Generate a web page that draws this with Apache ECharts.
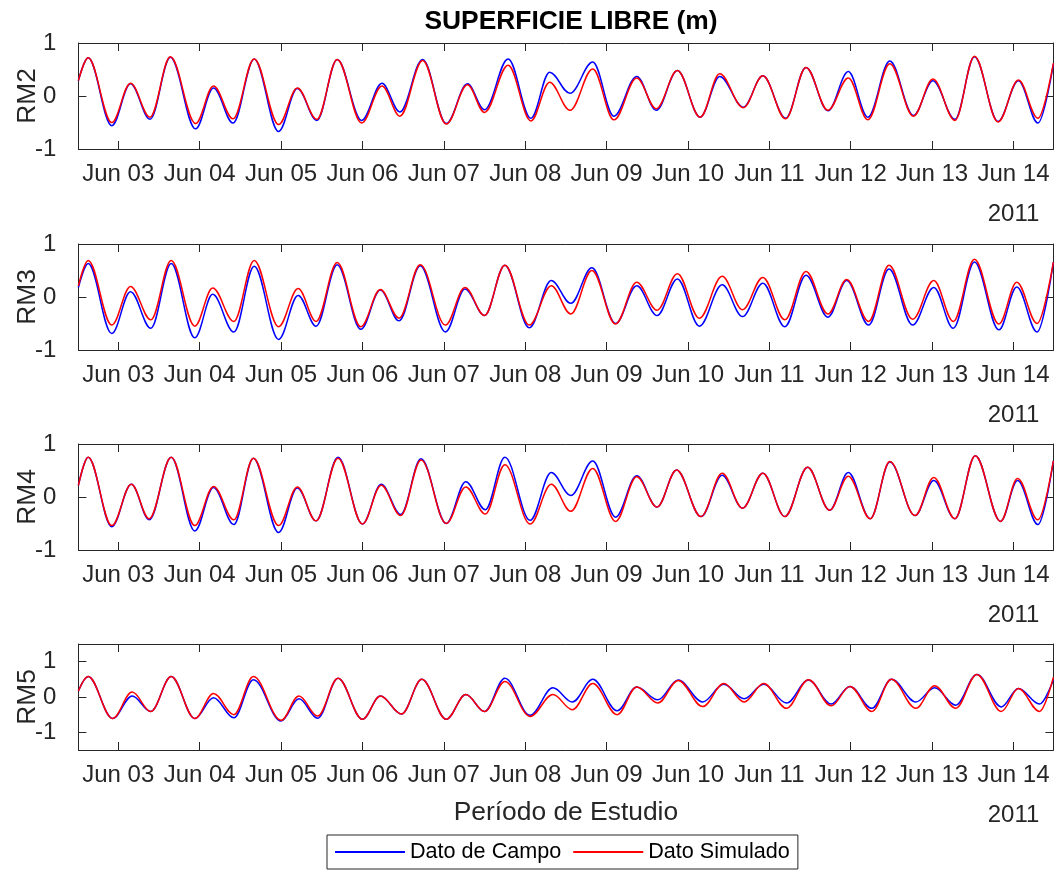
<!DOCTYPE html>
<html><head><meta charset="utf-8">
<script src="https://cdn.jsdelivr.net/npm/echarts@6/dist/echarts.min.js"></script>
<style>html,body{margin:0;padding:0;background:#fff}#c{width:1056px;height:871px}</style>
</head><body><div id="c"></div>
<script>
// ---- data (time in days since 2011-06-03 00:00; water level in m) ----
const stations = ['RM2', 'RM3', 'RM4', 'RM5'];
const dayTicks = [0, 1, 2, 3, 4, 5, 6, 7, 8, 9, 10, 11];
const dayLabels = ['Jun 03', 'Jun 04', 'Jun 05', 'Jun 06', 'Jun 07', 'Jun 08', 'Jun 09', 'Jun 10', 'Jun 11', 'Jun 12', 'Jun 13', 'Jun 14'];
const yearLabel = '2011';
const yTicksA = [-1, 0, 1];
const chartTitle = 'SUPERFICIE LIBRE (m)';
const xTitle = 'Período de Estudio';
const nameCampo = 'Dato de Campo';
const nameSim = 'Dato Simulado';

const tRM2 = [-0.49,-0.37,-0.08,0.15,0.39,0.64,0.95,1.17,1.41,1.67,1.97,2.20,2.44,2.69,2.99,3.24,3.46,3.74,4.03,4.29,4.50,4.79,5.07,5.30,5.55,5.83,6.09,6.37,6.61,6.87,7.15,7.39,7.68,7.92,8.20,8.45,8.72,8.97,9.21,9.48,9.77,10.01,10.28,10.52,10.81,11.06,11.30,11.49];
const simRM2 = [0.29,0.72,-0.50,0.24,-0.40,0.74,-0.52,0.19,-0.43,0.70,-0.54,0.15,-0.44,0.69,-0.51,0.19,-0.38,0.67,-0.53,0.21,-0.31,0.58,-0.47,0.26,-0.27,0.51,-0.45,0.34,-0.24,0.48,-0.40,0.42,-0.22,0.38,-0.43,0.54,-0.27,0.34,-0.45,0.61,-0.38,0.32,-0.46,0.75,-0.49,0.30,-0.42,0.62];
const campoRM2 = [0.29,0.72,-0.56,0.23,-0.44,0.73,-0.62,0.15,-0.51,0.70,-0.67,0.14,-0.46,0.69,-0.46,0.24,-0.30,0.69,-0.52,0.23,-0.26,0.70,-0.42,0.45,0.05,0.64,-0.38,0.37,-0.27,0.48,-0.40,0.37,-0.21,0.38,-0.42,0.54,-0.28,0.46,-0.40,0.66,-0.37,0.29,-0.44,0.74,-0.48,0.29,-0.51,0.60];

const tRM3 = [-0.49,-0.37,-0.08,0.15,0.40,0.65,0.94,1.16,1.42,1.67,1.97,2.21,2.43,2.69,2.98,3.22,3.45,3.71,4.02,4.26,4.50,4.75,5.05,5.32,5.56,5.82,6.11,6.37,6.62,6.87,7.14,7.42,7.67,7.92,8.19,8.45,8.72,8.95,9.22,9.47,9.76,10.02,10.26,10.52,10.82,11.04,11.29,11.49];
const simRM3 = [0.21,0.69,-0.53,0.20,-0.43,0.69,-0.55,0.17,-0.46,0.69,-0.56,0.16,-0.46,0.65,-0.56,0.14,-0.40,0.61,-0.53,0.18,-0.35,0.60,-0.53,0.21,-0.32,0.50,-0.51,0.28,-0.25,0.44,-0.40,0.39,-0.24,0.37,-0.43,0.48,-0.32,0.33,-0.46,0.60,-0.42,0.31,-0.46,0.71,-0.51,0.28,-0.50,0.66];
const campoRM3 = [0.18,0.63,-0.69,0.10,-0.59,0.63,-0.77,0.05,-0.66,0.58,-0.80,0.03,-0.55,0.61,-0.61,0.13,-0.45,0.59,-0.66,0.15,-0.35,0.60,-0.58,0.31,-0.12,0.55,-0.50,0.21,-0.35,0.34,-0.55,0.23,-0.37,0.26,-0.56,0.41,-0.38,0.31,-0.53,0.53,-0.53,0.18,-0.59,0.66,-0.62,0.19,-0.66,0.66];

const tRM4 = [-0.49,-0.37,-0.08,0.16,0.38,0.65,0.94,1.17,1.42,1.66,1.97,2.20,2.43,2.70,3.00,3.23,3.47,3.72,4.03,4.27,4.51,4.75,5.06,5.32,5.56,5.83,6.11,6.37,6.62,6.86,7.16,7.42,7.67,7.92,8.19,8.47,8.74,8.97,9.24,9.48,9.79,10.02,10.28,10.53,10.84,11.05,11.30,11.49];
const simRM4 = [0.22,0.75,-0.54,0.24,-0.41,0.75,-0.54,0.20,-0.43,0.73,-0.54,0.19,-0.45,0.73,-0.51,0.22,-0.35,0.70,-0.50,0.19,-0.32,0.61,-0.51,0.24,-0.27,0.54,-0.46,0.38,-0.19,0.51,-0.37,0.45,-0.21,0.45,-0.37,0.56,-0.25,0.39,-0.41,0.67,-0.35,0.37,-0.41,0.78,-0.46,0.35,-0.43,0.68];
const campoRM4 = [0.22,0.75,-0.56,0.24,-0.43,0.75,-0.64,0.18,-0.52,0.73,-0.67,0.17,-0.45,0.75,-0.51,0.24,-0.33,0.72,-0.50,0.29,-0.24,0.75,-0.44,0.46,0.03,0.68,-0.38,0.40,-0.19,0.51,-0.37,0.41,-0.21,0.45,-0.37,0.56,-0.25,0.46,-0.41,0.66,-0.35,0.31,-0.41,0.78,-0.46,0.31,-0.52,0.68];

const tRM5 = [-0.49,-0.37,-0.07,0.17,0.40,0.65,0.94,1.17,1.42,1.66,2.00,2.22,2.45,2.70,3.00,3.22,3.48,3.73,4.03,4.27,4.50,4.75,5.06,5.34,5.58,5.83,6.13,6.37,6.63,6.88,7.18,7.44,7.69,7.93,8.21,8.48,8.76,8.99,9.26,9.50,9.80,10.03,10.29,10.55,10.85,11.06,11.32,11.49];
const simRM5 = [0.17,0.58,-0.61,0.14,-0.41,0.58,-0.61,0.10,-0.50,0.58,-0.66,0.03,-0.54,0.53,-0.63,0.03,-0.48,0.50,-0.63,0.07,-0.41,0.44,-0.55,0.07,-0.36,0.38,-0.50,0.28,-0.17,0.47,-0.27,0.38,-0.14,0.38,-0.32,0.49,-0.25,0.30,-0.41,0.50,-0.32,0.32,-0.32,0.64,-0.41,0.24,-0.41,0.56];
const campoRM5 = [0.17,0.58,-0.61,0.03,-0.41,0.58,-0.61,-0.02,-0.59,0.49,-0.68,-0.05,-0.60,0.53,-0.63,0.03,-0.48,0.50,-0.63,0.07,-0.41,0.53,-0.52,0.26,-0.14,0.50,-0.39,0.28,-0.08,0.48,-0.14,0.36,-0.05,0.36,-0.17,0.48,-0.20,0.30,-0.32,0.50,-0.14,0.26,-0.23,0.64,-0.28,0.24,-0.20,0.49];

const yRanges = [[-1, 1], [-1, 1], [-1, 1], [-1.5, 1.5]];
const panels = [
  { t: tRM2, campo: campoRM2, sim: simRM2 },
  { t: tRM3, campo: campoRM3, sim: simRM3 },
  { t: tRM4, campo: campoRM4, sim: simRM4 },
  { t: tRM5, campo: campoRM5, sim: simRM5 }
];

// ---- layout / style ----
const FONT = 'Liberation Sans, Arial, Helvetica, sans-serif';
const AX = '#262626';
const X_MIN = -0.49, X_MAX = 11.49;
const gridTops = [43, 244, 444, 644];
const gridH = 106;

const grid = [], xAxis = [], yAxis = [], series = [];
panels.forEach((p, i) => {
  grid.push({ left: 78.4, right: 2.6, top: gridTops[i], height: gridH, containLabel: false, outerBoundsMode: 'none' });
  const line = { show: true, onZero: false, lineStyle: { color: AX, width: 1 } };
  xAxis.push({
    type: 'value', gridIndex: i, min: X_MIN, max: X_MAX, position: 'bottom',
    axisLine: line,
    axisTick: { show: true, inside: true, length: 8, customValues: dayTicks, lineStyle: { color: AX } },
    axisLabel: {
      show: true, customValues: dayTicks, margin: 11, fontSize: 24, lineHeight: 28,
      color: AX, fontFamily: FONT, hideOverlap: false,
      formatter: v => {
        const k = dayTicks.indexOf(Math.round(v));
        const s = k >= 0 ? dayLabels[k] : '';
        return k === dayTicks.length - 1 ? '{a|' + s + '}\n{b|' + yearLabel + '}' : s;
      },
      rich: {
        a: { fontSize: 24, lineHeight: 28, color: AX, fontFamily: FONT },
        b: { fontSize: 24, lineHeight: 52, color: AX, fontFamily: FONT }
      }
    },
    splitLine: { show: false },
    name: i === 3 ? xTitle : '', nameLocation: 'middle', nameGap: 50, nameMoveOverlap: false,
    nameTextStyle: { fontSize: 26.4, color: AX, fontFamily: FONT }
  });
  xAxis.push({
    type: 'value', gridIndex: i, min: X_MIN, max: X_MAX, position: 'top',
    axisLine: line,
    axisTick: { show: true, inside: true, length: 8, customValues: dayTicks, lineStyle: { color: AX } },
    axisLabel: { show: false }, splitLine: { show: false }
  });
  const yr = yRanges[i];
  yAxis.push({
    type: 'value', gridIndex: i, min: yr[0], max: yr[1], position: 'left',
    axisLine: line,
    axisTick: { show: true, inside: true, length: 8, customValues: yTicksA, lineStyle: { color: AX } },
    axisLabel: { show: true, customValues: yTicksA, margin: 22, fontSize: 24, color: AX, fontFamily: FONT },
    splitLine: { show: false },
    name: stations[i], nameLocation: 'middle', nameRotate: 90, nameGap: 38, nameMoveOverlap: false,
    nameTextStyle: { fontSize: 26.4, color: AX, fontFamily: FONT }
  });
  yAxis.push({
    type: 'value', gridIndex: i, min: yr[0], max: yr[1], position: 'right',
    axisLine: line,
    axisTick: { show: true, inside: true, length: 8, customValues: yTicksA, lineStyle: { color: AX } },
    axisLabel: { show: false }, splitLine: { show: false }
  });
  const mk = (name, vals, color) => ({
    name, type: 'line', xAxisIndex: 2 * i, yAxisIndex: 2 * i,
    data: p.t.map((t, j) => [t, vals[j]]),
    symbol: 'none', showSymbol: false, smooth: 0.36, smoothMonotone: 'x',
    lineStyle: { color, width: 1.5 }, itemStyle: { color },
    clip: true, animation: false, silent: true
  });
  series.push(mk(nameCampo, p.campo, '#0000ff'));
  series.push(mk(nameSim, p.sim, '#ff0000'));
});

const chart = echarts.init(document.getElementById('c'), null, { renderer: 'canvas' });
chart.setOption({
  backgroundColor: '#ffffff',
  animation: false,
  title: {
    text: chartTitle, left: 566, top: 4, textAlign: 'center',
    textStyle: { fontSize: 26.4, fontWeight: 'bold', color: '#000', fontFamily: FONT }
  },
  legend: {
    data: [nameCampo, nameSim], left: 327, top: 835,
    padding: [5, 8, 5, 8], itemGap: 12, itemWidth: 70, itemHeight: 2, icon: 'rect',
    borderColor: AX, borderWidth: 1, backgroundColor: '#fff',
    textStyle: { fontSize: 21.6, color: '#000', fontFamily: FONT, lineHeight: 24 }
  },
  grid, xAxis, yAxis, series
});
</script></body></html>
